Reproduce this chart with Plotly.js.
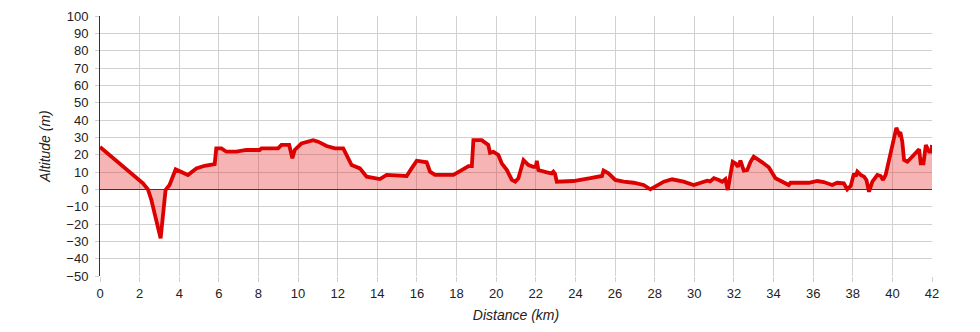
<!DOCTYPE html>
<html>
<head>
<meta charset="utf-8">
<script src="https://cdn.plot.ly/plotly-3.0.1.min.js"></script>
<style>html,body{margin:0;padding:0;background:#fff;}#chart{width:980px;height:332px;}</style>
</head>
<body>
<div id="chart"></div>
<script>
const distanceKm = [0, 2.17, 2.42, 2.59, 3.06, 3.18, 3.31, 3.51, 3.82, 4.44, 4.86, 5.28, 5.79, 5.87, 6.13, 6.38, 6.88, 7.39, 8.06, 8.15, 8.99, 9.16, 9.55, 9.71, 9.83, 10.17, 10.76, 11.01, 11.44, 11.86, 12.28, 12.7, 13.12, 13.46, 14.13, 14.47, 15.48, 15.73, 15.99, 16.49, 16.66, 16.91, 17.84, 18.26, 18.6, 18.77, 18.85, 19.27, 19.6, 19.69, 19.86, 20.11, 20.28, 20.54, 20.79, 20.96, 21.12, 21.38, 21.63, 21.88, 22.0, 22.05, 22.13, 22.56, 22.81, 22.89, 22.97, 23.06, 23.9, 24.75, 25.34, 25.42, 25.67, 26.01, 26.43, 26.94, 27.44, 27.78, 28.12, 28.46, 28.88, 29.46, 29.97, 30.48, 30.65, 30.8, 30.99, 31.24, 31.41, 31.57, 31.69, 31.94, 32.08, 32.2, 32.33, 32.5, 32.67, 32.84, 33.0, 33.43, 33.76, 34.1, 34.44, 34.77, 34.86, 35.37, 35.78, 36.21, 36.54, 36.96, 37.21, 37.55, 37.72, 37.9, 38.06, 38.15, 38.23, 38.4, 38.57, 38.69, 38.82, 38.99, 39.24, 39.41, 39.53, 39.66, 39.83, 40.0, 40.2, 40.33, 40.4, 40.5, 40.59, 40.76, 41.09, 41.35, 41.43, 41.57, 41.69, 41.85, 41.97, 42.0];
const altitudeM = [24.4, 3.5, 0, -6, -28.3, -12, -0.4, 2.5, 11.5, 8.3, 12, 13.6, 14.6, 23.6, 23.6, 21.7, 21.7, 22.7, 22.7, 23.6, 23.6, 25.6, 25.6, 17.9, 22.7, 26.5, 28.4, 27.5, 25, 23.6, 23.6, 14, 12.1, 7.3, 5.9, 8.3, 7.7, 12.1, 16.5, 15.6, 10.2, 8.3, 8.3, 11.1, 13.4, 13.4, 28.4, 28.4, 25.6, 21.1, 21.7, 19.8, 15, 11.1, 5.4, 4.4, 6.4, 16.9, 14, 13, 13, 16.5, 11.1, 9.8, 9.2, 10.2, 9, 4.4, 4.8, 6.4, 7.7, 10.8, 9.2, 5.4, 4.4, 3.8, 2.5, 0, 2.5, 4.4, 5.8, 4.4, 2.5, 4.4, 5, 4.6, 6.4, 5.4, 4.4, 5.9, -0.4, 15.9, 15, 13, 16.5, 10.8, 11.1, 15.9, 18.8, 15.6, 12.7, 6.4, 4.4, 2.5, 3.8, 3.8, 3.8, 4.8, 4.2, 2.5, 3.8, 3.5, 0, 2, 9.2, 7.5, 10.2, 8.3, 7.3, 5.4, -1.4, 4.4, 8.3, 7.7, 5.4, 8.3, 16.9, 26.5, 35.5, 32, 33, 27.5, 16.9, 15.9, 19.8, 23.1, 15, 15, 25.6, 21.7, 21.7, 25.6];
const xTitle = 'Distance (km)';
const yTitle = 'Altitude (m)';

const trace = {
  x: distanceKm,
  y: altitudeM,
  type: 'scatter',
  mode: 'lines',
  fill: 'tozeroy',
  fillcolor: 'rgba(232,40,40,0.35)',
  line: {color: '#dd0000', width: 3.8, shape: 'linear'},
  hoverinfo: 'x+y'
};

const layout = {
  width: 980,
  height: 332,
  margin: {l: 100, r: 48, t: 16, b: 56, pad: 0},
  paper_bgcolor: '#ffffff',
  plot_bgcolor: '#ffffff',
  showlegend: false,
  font: {family: 'Liberation Sans, Arial, sans-serif', size: 13, color: '#222'},
  xaxis: {
    range: [0, 42],
    dtick: 2,
    tick0: 0,
    showgrid: true,
    gridcolor: '#d0d0d0',
    gridwidth: 1,
    zeroline: false,
    showline: false,
    ticks: 'outside',
    ticklen: 5,
    tickcolor: '#d0d0d0',
    tickfont: {size: 13, color: '#222'},
    title: {text: xTitle, font: {size: 14, color: '#222', style: 'italic'}, standoff: 10}
  },
  yaxis: {
    range: [-50, 100],
    dtick: 10,
    tick0: 0,
    showgrid: true,
    gridcolor: '#d0d0d0',
    gridwidth: 1,
    zeroline: true,
    zerolinecolor: '#333',
    zerolinewidth: 1,
    showline: true,
    linecolor: '#333',
    linewidth: 1,
    ticks: 'outside',
    ticklen: 4,
    tickcolor: '#d0d0d0',
    ticklabelstandoff: 4,
    tickfont: {size: 13, color: '#222'},
    title: {text: yTitle, font: {size: 14, color: '#222', style: 'italic'}, standoff: 12}
  }
};

Plotly.newPlot('chart', [trace], layout, {displayModeBar: false, staticPlot: true});
</script>
</body>
</html>
